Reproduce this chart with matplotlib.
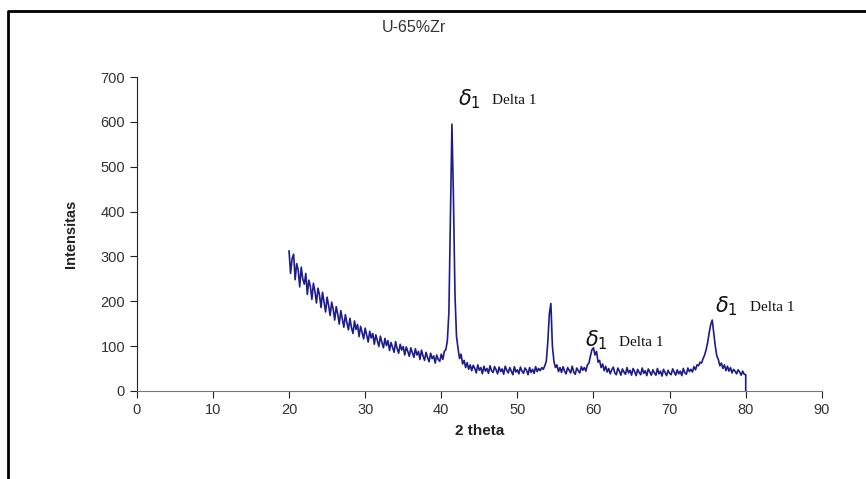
import numpy as np
import matplotlib
matplotlib.use("Agg")
import matplotlib.pyplot as plt
from matplotlib.lines import Line2D

# XRD pattern of U-65%Zr, 2-theta from 20 to 79.8 in 0.2 steps
start_2theta = 20.0
step_2theta = 0.2
intensity = [
    312, 262, 295, 305, 248, 284, 270, 232, 276, 250,
    238, 262, 215, 247, 233, 204, 240, 222, 196, 229,
    214, 186, 220, 198, 176, 209, 190, 168, 198, 182,
    158, 188, 171, 149, 179, 160, 142, 170, 152, 136,
    162, 141, 128, 156, 137, 148, 121, 144, 130, 116,
    140, 124, 109, 133, 118, 128, 104, 125, 112, 99,
    122, 108, 96, 117, 101, 112, 90, 108, 97, 86,
    110, 94, 84, 104, 91, 99, 80, 98, 88, 77,
    96, 85, 75, 94, 80, 88, 70, 91, 78, 68,
    86, 74, 65, 84, 72, 78, 62, 80, 70, 66,
    82, 70, 88, 92, 112, 175, 380, 595, 430, 215,
    122, 95, 72, 82, 60, 68, 52, 63, 48, 58,
    45, 57, 50, 40, 58, 46, 52, 38, 55, 44,
    50, 39, 56, 45, 41, 54, 47, 38, 53, 43,
    49, 37, 55, 46, 40, 52, 44, 36, 54, 42,
    47, 38, 53, 44, 39, 51, 46, 36, 52, 41,
    48, 39, 54, 43, 50, 45, 52, 48, 56, 66,
    110, 172, 195, 100, 66, 52, 58, 43, 52, 41,
    54, 44, 38, 52, 46, 40, 55, 42, 37, 51,
    45, 40, 54, 46, 52, 44, 58, 62, 78, 92,
    96, 80, 88, 64, 68, 52, 60, 45, 55, 42,
    50, 38, 47, 53, 40, 36, 51, 44, 35, 49,
    42, 37, 52, 40, 46, 35, 50, 43, 34, 48,
    41, 36, 51, 39, 45, 34, 49, 42, 35, 47,
    40, 35, 50, 38, 44, 33, 48, 41, 34, 46,
    39, 36, 49, 42, 35, 47, 38, 44, 34, 50,
    40, 37, 51, 43, 48, 42, 54, 47, 58, 56,
    64, 62, 72, 80, 92, 108, 130, 148, 158, 130,
    100, 78, 70, 56, 62, 50, 58, 45, 55, 44,
    52, 40, 48, 44, 38, 47, 42, 35, 44, 37,
]
end_2theta = [80.0, 80.0]
end_intensity = [36, 0]

# peak labels
peak_labels = ["Delta 1", "Delta 1", "Delta 1"]
label_2theta = [43.7, 60.4, 77.5]
label_intensity = [650, 112, 190]

two_theta = [start_2theta + step_2theta * i for i in range(len(intensity))] + end_2theta
counts = intensity + end_intensity

fig = plt.figure(figsize=(8.66, 4.79), dpi=100)
ax = fig.add_axes([0.158, 0.184, 0.791, 0.655])

ax.plot(two_theta, counts, color="#1c1c8a", lw=1.2)

ax.set_xlim(0, 90)
ax.set_ylim(0, 700)
ax.set_xticks(range(0, 91, 10))
ax.set_yticks(range(0, 701, 100))
for s in ["top", "right"]:
    ax.spines[s].set_visible(False)
ax.spines["left"].set_color("#222222")
ax.spines["bottom"].set_color("#777777")
ax.tick_params(axis="both", direction="out", length=5, width=0.8, colors="#222222",
               labelsize=10.5, labelcolor="#333333")
for lbl in ax.get_xticklabels() + ax.get_yticklabels():
    lbl.set_family("Liberation Sans")

ax.set_xlabel("2 theta", fontsize=11, fontweight="bold", family="Liberation Sans",
              color="#222222", labelpad=5)
ax.set_ylabel("Intensitas", fontsize=10.5, fontweight="bold", family="Liberation Sans",
              color="#222222", labelpad=16)

for x, y, t in zip(label_2theta, label_intensity, peak_labels):
    ax.text(x, y, r"$\delta_1$", fontsize=15, ha="center", va="center", color="#111111")
    ax.text(x + 3.0, y - 3, t, fontsize=11, family="Liberation Serif",
            ha="left", va="center", color="#111111")

fig.text(0.478, 0.942, "U-65%Zr", fontsize=11.5, family="Liberation Sans",
         ha="center", va="center", color="#333333")

# outer frame (top and left edges)
fig.add_artist(Line2D([0.009, 0.009, 1.0], [0.0, 0.977, 0.977],
                      transform=fig.transFigure, color="black", lw=2))

fig.savefig("out.png", dpi=100)
